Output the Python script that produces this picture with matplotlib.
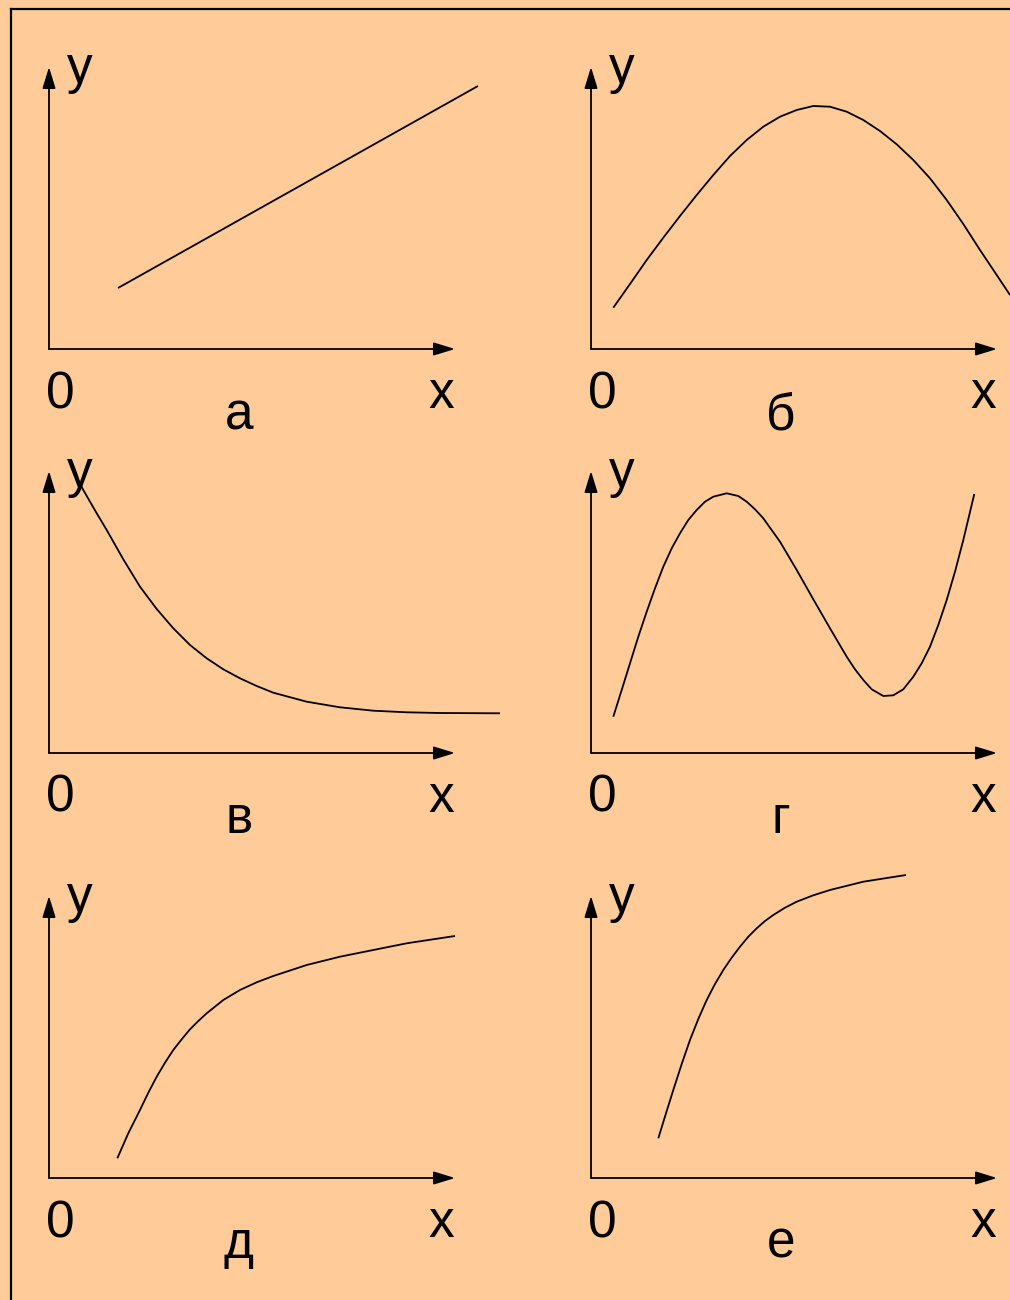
import matplotlib
matplotlib.use("Agg")
import matplotlib.pyplot as plt
from matplotlib.lines import Line2D

plt.rcParams['font.family'] = ['Liberation Sans', 'DejaVu Sans']

# ---- data (values in panel units) ----
panel_letters = ['а', 'б', 'в', 'г', 'д', 'е']
axis_labels = ['0', 'x', 'y']

a_x = [69, 429]
a_y = [61, 263]

b_x = [22.3, 39, 55.7, 72.3, 89, 105.7, 122.3, 139, 155.7, 172.3, 189, 205.7,
       222.3, 239, 255.7, 272.3, 289, 305.7, 322.3, 339, 355.7, 372.3, 389,
       405.7, 419]
b_y = [41.3, 65, 89, 111.3, 133, 154, 174, 193, 209, 222.3, 232.3, 239,
       243, 242.3, 237.3, 229, 218, 204.7, 189, 170.7, 149, 125, 99,
       74, 54]

v_x = [29, 34.3, 47.7, 57.7, 74.3, 91, 107.7, 124.3, 141, 157.7, 174.3, 191,
       207.7, 224.3, 257.7, 291, 324.3, 357.7, 391, 451]
v_y = [273, 263, 239.7, 223, 193.7, 166.3, 144, 124.7, 108, 94.7, 83.7, 74.7,
       67, 60.3, 51.3, 45.7, 42.3, 40.7, 40, 39.7]

g_x = [22.3, 30.7, 39, 47.3, 55.7, 64, 72.3, 80.7, 89, 97.3, 105.7, 114,
       122.3, 135.7, 147.3, 155.7, 164, 172.3, 189, 205.7, 222.3, 239, 255.7,
       264, 272.3, 280.7, 292.3, 302.3, 312.3, 322.3, 330.7, 339, 347.3,
       355.7, 364, 372.3, 383.3]
g_y = [36.3, 63, 89.7, 116.3, 141.3, 164.7, 186.3, 204.7, 219.7, 233, 243, 251.3,
       256.3, 259.7, 257, 251.3, 243.7, 234.7, 211.3, 183, 153.7, 124.7, 96.3,
       83.7, 73, 63.7, 57, 57.7, 63.7, 76.3, 89.7, 106.3, 128,
       153, 181.3, 213, 259]

d_x = [68.3, 79.3, 91, 99.3, 107.7, 116, 124.3, 132.7, 141, 149.3, 157.7, 174.3,
       191, 207.7, 224.3, 257.7, 291, 324.3, 357.7, 406]
d_y = [19.7, 44.7, 68, 85.3, 101.3, 115.3, 128, 138.7, 148.7, 157, 164.7, 178,
       188, 195.7, 202, 213, 221.3, 228, 234.7, 242]

e_x = [67.3, 75, 82.3, 90.7, 99, 107.3, 115.7, 124, 132.3, 140.7, 149, 157.3,
       165.7, 174, 182.3, 194, 205.7, 222.3, 239, 272.3, 315]
e_y = [39.7, 64.7, 88, 114, 138, 159, 178, 194, 208, 220.3, 231.3, 241.3,
       249.7, 257, 263, 270.3, 276.3, 282.7, 288, 296.3, 303]

curves_x = [a_x, b_x, v_x, g_x, d_x, e_x]
curves_y = [a_y, b_y, v_y, g_y, d_y, e_y]

# ---- layout ----
W, H = 1010, 1300
BG = '#FFCC99'
origins = [(49, 349), (591, 349), (49, 753), (591, 753), (49, 1178), (591, 1178)]
AW, AH = 406, 282
FS = 37

fig = plt.figure(figsize=(W / 100, H / 100), dpi=100, facecolor=BG)

# outer frame (top and left edges visible)
fig.add_artist(Line2D([11 / W, 1.0], [1 - 9 / H, 1 - 9 / H], color='black', lw=1.6,
                      transform=fig.transFigure))
fig.add_artist(Line2D([11 / W, 11 / W], [1 - 9 / H, 0.0], color='black', lw=1.6,
                      transform=fig.transFigure))

for i, (ox, oy) in enumerate(origins):
    ax = fig.add_axes([ox / W, 1 - oy / H, AW / W, AH / H])
    ax.set_xlim(0, AW)
    ax.set_ylim(0, AH)
    ax.axis('off')
    ax.patch.set_alpha(0)

    arrow = dict(arrowstyle='-|>,head_length=0.65,head_width=0.2', color='black',
                 lw=1.3, shrinkA=0, shrinkB=0, mutation_scale=20)
    ax.annotate('', xy=(AW, 0), xytext=(0, 0), xycoords='data',
                arrowprops=arrow, annotation_clip=False)
    ax.annotate('', xy=(0, AH), xytext=(0, 0), xycoords='data',
                arrowprops=arrow, annotation_clip=False)

    ax.plot(curves_x[i], curves_y[i], color='black', lw=1.3, clip_on=False,
            solid_capstyle='butt', solid_joinstyle='round')

    ax.text(11, -59, axis_labels[0], fontsize=FS, ha='center', va='baseline', clip_on=False)
    ax.text(392, -59, axis_labels[1], fontsize=FS, ha='center', va='baseline', clip_on=False)
    ax.text(31, AH - 16, axis_labels[2], fontsize=FS, ha='center', va='baseline', clip_on=False)
    ax.text(190, -80, panel_letters[i], fontsize=FS, ha='center', va='baseline', clip_on=False)

fig.savefig('out.png', dpi=100, facecolor=BG)
